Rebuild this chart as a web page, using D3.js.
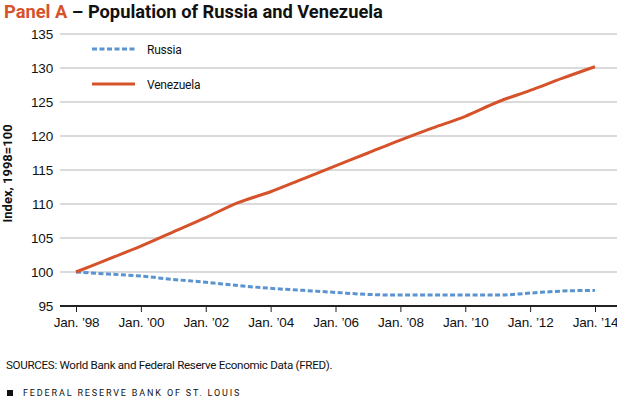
<!DOCTYPE html>
<html>
<head>
<meta charset="utf-8">
<script src="https://cdn.jsdelivr.net/npm/d3@7"></script>
<style>
  body { margin: 0; background: #fff; }
  svg { display: block; font-family: Roboto, "DejaVu Sans", sans-serif; }
  .axis text { font-size: 13.5px; fill: #111; letter-spacing: -0.2px; }
</style>
</head>
<body>
<div id="chart"></div>
<script>
var years = [1998, 1999, 2000, 2001, 2002, 2003, 2004, 2005, 2006, 2007, 2008, 2009, 2010, 2011, 2012, 2013, 2014];
var russia = [100, 99.7, 99.4, 98.9, 98.5, 98.0, 97.6, 97.3, 97.0, 96.7, 96.6, 96.6, 96.6, 96.6, 96.9, 97.2, 97.3];
var venezuela = [100, 101.9, 103.8, 105.9, 108.0, 110.2, 111.8, 113.7, 115.6, 117.5, 119.4, 121.2, 122.9, 125.0, 126.7, 128.5, 130.2];
var yTicks = [95, 100, 105, 110, 115, 120, 125, 130, 135];
var xTicks = [1998, 2000, 2002, 2004, 2006, 2008, 2010, 2012, 2014];

var width = 617, height = 399;
var svg = d3.select("#chart").append("svg")
  .attr("width", width)
  .attr("height", height);

// title
var title = svg.append("text")
  .attr("x", 4)
  .attr("y", 18)
  .style("font-size", "18.3px")
  .style("font-weight", "bold");
title.append("tspan").attr("fill", "#d5522b").text("Panel A");
title.append("tspan").attr("fill", "#111").text(" – Population of Russia and Venezuela");

var x = d3.scaleLinear().domain([1998, 2014]).range([76, 595]);
var y = d3.scaleLinear().domain([95, 135]).range([306, 34]);

// gridlines
svg.append("g")
  .selectAll("line")
  .data(yTicks.slice(1))
  .enter()
  .append("line")
  .attr("x1", 60)
  .attr("x2", 617)
  .attr("y1", function (d) { return y(d); })
  .attr("y2", function (d) { return y(d); })
  .attr("stroke", "#b5b5b5")
  .attr("stroke-width", 1);

// y axis labels
var yAxis = d3.axisLeft(y).tickValues(yTicks).tickSize(0).tickPadding(7);
svg.append("g")
  .attr("class", "axis")
  .attr("transform", "translate(60,0)")
  .call(yAxis)
  .call(function (g) { g.select(".domain").remove(); });

// x axis
var xAxis = d3.axisBottom(x)
  .tickValues(xTicks)
  .tickSize(6)
  .tickPadding(5)
  .tickFormat(function (d) { return "Jan. \u2019" + String(d).slice(2); });
var gx = svg.append("g")
  .attr("class", "axis")
  .attr("transform", "translate(0,306)")
  .call(xAxis);
gx.select(".domain").remove();
gx.selectAll(".tick line").attr("stroke", "#222");
svg.append("line")
  .attr("x1", 60).attr("x2", 617)
  .attr("y1", 306).attr("y2", 306)
  .attr("stroke", "#222")
  .attr("stroke-width", 2);

// y axis title
svg.append("text")
  .attr("transform", "translate(12," + y(114.5) + ") rotate(-90)")
  .attr("text-anchor", "middle")
  .style("font-size", "13px")
  .style("font-weight", "bold")
  .attr("fill", "#111")
  .text("Index, 1998=100");

var line = d3.line()
  .x(function (d) { return x(d[0]); })
  .y(function (d) { return y(d[1]); })
  .curve(d3.curveMonotoneX);

svg.append("path")
  .datum(years.map(function (yr, i) { return [yr, russia[i]]; }))
  .attr("d", line)
  .attr("fill", "none")
  .attr("stroke", "#5b93d0")
  .attr("stroke-width", 3)
  .attr("stroke-dasharray", "5,2.5");

svg.append("path")
  .datum(years.map(function (yr, i) { return [yr, venezuela[i]]; }))
  .attr("d", line)
  .attr("fill", "none")
  .attr("stroke", "#d5522b")
  .attr("stroke-width", 3);

// legend
var legend = [
  { name: "Russia", color: "#5b93d0", dash: "5,2.5", ly: 49 },
  { name: "Venezuela", color: "#d5522b", dash: null, ly: 84 }
];
legend.forEach(function (l) {
  svg.append("line")
    .attr("x1", 92).attr("x2", 135)
    .attr("y1", l.ly).attr("y2", l.ly)
    .attr("stroke", l.color)
    .attr("stroke-width", 3)
    .attr("stroke-dasharray", l.dash);
  svg.append("text")
    .attr("x", 147)
    .attr("y", l.ly + 4.5)
    .style("font-size", "12px")
    .style("letter-spacing", "-0.2px")
    .attr("fill", "#111")
    .text(l.name);
});

// sources + footer
svg.append("text")
  .attr("x", 6)
  .attr("y", 369)
  .style("font-size", "11.6px")
  .style("letter-spacing", "-0.3px")
  .attr("fill", "#111")
  .text("SOURCES: World Bank and Federal Reserve Economic Data (FRED).");

svg.append("rect")
  .attr("x", 7).attr("y", 390)
  .attr("width", 6).attr("height", 6)
  .attr("fill", "#111");
svg.append("text")
  .attr("x", 23)
  .attr("y", 396)
  .style("font-size", "9px")
  .style("letter-spacing", "1.85px")
  .attr("fill", "#111")
  .text("FEDERAL RESERVE BANK OF ST. LOUIS");
</script>
</body>
</html>
